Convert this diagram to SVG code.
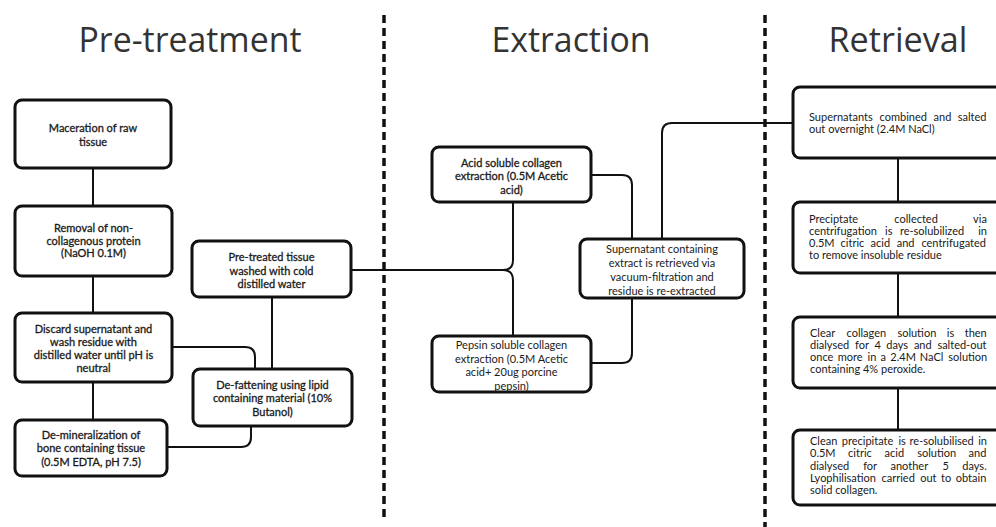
<svg xmlns="http://www.w3.org/2000/svg" width="996" height="527" viewBox="0 0 996 527">
<style>
.title{font-family:"Open Sans","Liberation Sans",sans-serif;font-size:35px;fill:#333;text-anchor:middle}
.box{fill:#fff;stroke:#111;stroke-width:3}
.t{font-family:Lato,"Liberation Sans",sans-serif;font-size:11px;fill:#1a1a1a;text-anchor:middle}
.b{stroke:#1a1a1a;stroke-width:0.3}
.r{font-family:Lato,"Liberation Sans",sans-serif;font-size:11px;fill:#1a1a1a}
.c{fill:none;stroke:#111;stroke-width:2}
.dash{fill:none;stroke:#111;stroke-width:3.5;stroke-dasharray:8 5}
</style>
<rect width="996" height="527" fill="#fff"/>
<g id="titles">
<text class="title" x="190" y="52" textLength="223" lengthAdjust="spacingAndGlyphs">Pre-treatment</text>
<text class="title" x="571" y="52" textLength="159" lengthAdjust="spacingAndGlyphs">Extraction</text>
<text class="title" x="898" y="52" textLength="139" lengthAdjust="spacingAndGlyphs">Retrieval</text>
</g>
<g id="dividers">
<line class="dash" x1="384" y1="15" x2="384" y2="522"/>
<line class="dash" x1="765" y1="15" x2="765" y2="527"/>
</g>
<g id="connectors">
<line class="c" x1="93" y1="168" x2="93" y2="206"/>
<line class="c" x1="93" y1="276" x2="93" y2="313"/>
<line class="c" x1="93" y1="382" x2="93" y2="420"/>
<path class="c" d="M172,347 H245 Q255,347 255,357 V369"/>
<line class="c" x1="272" y1="297" x2="272" y2="369"/>
<path class="c" d="M251,426 V437 Q251,447 241,447 H167"/>
<path class="c" d="M351,270 H503 Q513,270 513,260 V202"/>
<path class="c" d="M503,270 Q513,270 513,280 V336"/>
<path class="c" d="M591,175 H622 Q632,175 632,185 V239"/>
<path class="c" d="M632,298 V353 Q632,363 622,363 H591"/>
<path class="c" d="M662,239 V133 Q662,123 672,123 H793"/>
<line class="c" x1="898" y1="158" x2="898" y2="202"/>
<line class="c" x1="898" y1="273" x2="898" y2="317"/>
<line class="c" x1="898" y1="388" x2="898" y2="430"/>
</g>
<g id="maceration">
<rect class="box" x="15" y="100" width="156" height="68" rx="7"/>
<text class="t b" x="93" y="132">Maceration of raw</text>
<text class="t b" x="93" y="146">tissue</text>
</g>
<g id="removal">
<rect class="box" x="15" y="206" width="157" height="70" rx="7"/>
<text class="t b" x="93.5" y="232">Removal of non-</text>
<text class="t b" x="93.5" y="245">collagenous protein</text>
<text class="t b" x="93.5" y="257">(NaOH 0.1M)</text>
</g>
<g id="discard">
<rect class="box" x="15" y="313" width="157" height="69" rx="7"/>
<text class="t b" x="93.5" y="333">Discard supernatant and</text>
<text class="t b" x="93.5" y="346">wash residue with</text>
<text class="t b" x="93.5" y="359">distilled water until pH is</text>
<text class="t b" x="93.5" y="372">neutral</text>
</g>
<g id="demineralization">
<rect class="box" x="15" y="420" width="152" height="56" rx="7"/>
<text class="t b" x="91" y="439">De-mineralization of</text>
<text class="t b" x="91" y="452">bone containing tissue</text>
<text class="t b" x="91" y="466">(0.5M EDTA, pH 7.5)</text>
</g>
<g id="pretreated">
<rect class="box" x="192" y="241" width="159" height="56" rx="7"/>
<text class="t b" x="271.5" y="261">Pre-treated tissue</text>
<text class="t b" x="271.5" y="275">washed with cold</text>
<text class="t b" x="271.5" y="288">distilled water</text>
</g>
<g id="defattening">
<rect class="box" x="193" y="369" width="159" height="57" rx="7"/>
<text class="t b" x="272.5" y="389">De-fattening using lipid</text>
<text class="t b" x="272.5" y="402">containing material (10%</text>
<text class="t b" x="272.5" y="416">Butanol)</text>
</g>
<g id="acid">
<rect class="box" x="432" y="147" width="159" height="55" rx="7"/>
<text class="t b" x="511.5" y="167">Acid soluble collagen</text>
<text class="t b" x="511.5" y="180">extraction (0.5M Acetic</text>
<text class="t b" x="511.5" y="194">acid)</text>
</g>
<g id="pepsin">
<rect class="box" x="432" y="336" width="159" height="56" rx="7"/>
<text class="t" x="511.5" y="349">Pepsin soluble collagen</text>
<text class="t" x="511.5" y="363">extraction (0.5M Acetic</text>
<text class="t" x="511.5" y="376">acid+ 20ug porcine</text>
<text class="t" x="511.5" y="390">pepsin)</text>
</g>
<g id="supernatant">
<rect class="box" x="580" y="239" width="164" height="59" rx="7"/>
<text class="t" x="662" y="253">Supernatant containing</text>
<text class="t" x="662" y="267">extract is retrieved via</text>
<text class="t" x="662" y="281">vacuum-filtration and</text>
<text class="t" x="662" y="295">residue is re-extracted</text>
</g>
<g id="salted">
<rect class="box" x="793" y="87" width="215" height="71" rx="7"/>
<text class="r" y="121"><tspan x="809">Supernatants</tspan><tspan x="879.6">combined</tspan><tspan x="933.6">and</tspan><tspan x="957.8">salted</tspan></text>
<text class="r" x="809" y="133">out overnight (2.4M NaCl)</text>
</g>
<g id="precipitate">
<rect class="box" x="793" y="202" width="215" height="71" rx="7"/>
<text class="r" y="223"><tspan x="809">Preciptate</tspan><tspan x="894.3">collected</tspan><tspan x="973.1">via</tspan></text>
<text class="r" y="235"><tspan x="809">centrifugation</tspan><tspan x="885">is</tspan><tspan x="899.9">re-solubilized</tspan><tspan x="978.2">in</tspan></text>
<text class="r" y="247"><tspan x="809">0.5M</tspan><tspan x="840.6">citric</tspan><tspan x="870.6">acid</tspan><tspan x="896.7">and</tspan><tspan x="921.4">centrifugated</tspan></text>
<text class="r" x="809" y="259">to remove insoluble residue</text>
</g>
<g id="dialysed">
<rect class="box" x="793" y="317" width="215" height="71" rx="7"/>
<text class="r" y="337"><tspan x="810">Clear</tspan><tspan x="846.5">collagen</tspan><tspan x="897.4">solution</tspan><tspan x="946.8">is</tspan><tspan x="964.7">then</tspan></text>
<text class="r" y="349"><tspan x="810">dialysed</tspan><tspan x="855.1">for</tspan><tspan x="874.4">4</tspan><tspan x="886.3">days</tspan><tspan x="913.9">and</tspan><tspan x="937.4">salted-out</tspan></text>
<text class="r" y="361"><tspan x="810">once</tspan><tspan x="837.7">more</tspan><tspan x="867.5">in</tspan><tspan x="880.4">a</tspan><tspan x="890.3">2.4M</tspan><tspan x="919.8">NaCl</tspan><tspan x="948.3">solution</tspan></text>
<text class="r" x="810" y="373">containing 4% peroxide.</text>
</g>
<g id="lyophilisation">
<rect class="box" x="793" y="430" width="215" height="75" rx="7"/>
<text class="r" y="445"><tspan x="810">Clean</tspan><tspan x="841.8">precipitate</tspan><tspan x="898.4">is</tspan><tspan x="909.6">re-solubilised</tspan><tspan x="978.2">in</tspan></text>
<text class="r" y="457"><tspan x="810">0.5M</tspan><tspan x="848.1">citric</tspan><tspan x="884.6">acid</tspan><tspan x="917.2">solution</tspan><tspan x="968.6">and</tspan></text>
<text class="r" y="470"><tspan x="810">dialysed</tspan><tspan x="863.2">for</tspan><tspan x="890.5">another</tspan><tspan x="942.4">5</tspan><tspan x="962.3">days.</tspan></text>
<text class="r" y="482"><tspan x="810">Lyophilisation</tspan><tspan x="881.5">carried</tspan><tspan x="920.2">out</tspan><tspan x="941.1">to</tspan><tspan x="955.8">obtain</tspan></text>
<text class="r" x="810" y="494">solid collagen.</text>
</g>
</svg>
